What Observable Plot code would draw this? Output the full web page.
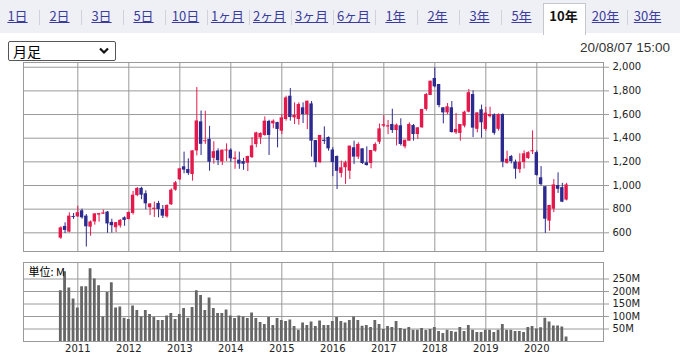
<!DOCTYPE html>
<html><head><meta charset="utf-8">
<script src="https://cdn.jsdelivr.net/npm/d3@7"></script>
<script src="https://cdn.jsdelivr.net/npm/@observablehq/plot@0.6"></script>
<style>
body{margin:0;background:#fff;}
#wrap{position:relative;width:680px;height:355px;overflow:hidden;font-family:"Noto Sans CJK JP","Liberation Sans",sans-serif;}
#tabs{position:absolute;left:0;top:0;width:680px;height:33px;background:#eef0f6;}
.tab{position:absolute;top:7px;transform:translateX(-50%);font-size:13px;line-height:18px;color:#3c3c9c;text-decoration:underline;white-space:nowrap;}
.tab.sel{color:#111;font-weight:bold;text-decoration:none;}
.sep{position:absolute;top:10px;width:1px;height:15px;background:#cfd1dc;}
#selbox{position:absolute;left:542px;top:3px;width:41px;height:31px;background:#fff;border:1px solid #c4c6d0;border-bottom:none;}
#dd{position:absolute;left:8px;top:41px;width:106px;height:18px;border:1px solid #555;border-radius:2px;background:#fff;font-size:14px;line-height:18px;}
#dd span{position:absolute;left:4px;top:0;color:#000;}
#dd svg{position:absolute;right:6px;top:5px;}
#stamp{position:absolute;right:10px;top:40px;font-size:13.5px;color:#333;font-family:"Liberation Sans",sans-serif;}
#main{position:absolute;left:0;top:55px;}
#vol{position:absolute;left:0;top:255px;}
</style></head>
<body><div id="wrap">
<div id="tabs"></div>
<div id="dd"><span>月足</span><svg width="10" height="8"><polyline points="1,1.5 5,5.5 9,1.5" fill="none" stroke="#111" stroke-width="2.2"/></svg></div>
<div id="stamp">20/08/07 15:00</div>
<div id="main"></div>
<div id="vol"></div>
</div>
<script>
// Monthly candles, Sep 2010 .. Aug 2020
const startLabel = "2010-09";
const opens = [555,654,606,738,
735,786,741,648,692,750,758,775,688,643,658,727,
712,764,915,976,930,812,798,848,797,735,837,961,
1048,1158,1135,1093,1292,1538,1370,1390,1230,1292,1200,1292,
1299,1221,1214,1202,1188,1236,1346,1403,1423,1542,1521,1532,
1459,1558,1755,1572,1558,1657,1600,1690,1380,1194,1383,1406,
1300,1245,1102,1150,1121,1319,1240,1310,1192,1186,1290,1366,
1502,1495,1516,1465,1505,1327,1375,1507,1431,1488,1643,1761,
1905,1854,1657,1614,1657,1445,1440,1502,1620,1769,1475,1640,
1474,1582,1597,1475,1600,1188,1245,1197,1134,1195,1228,1285,
1278,1065,990,699,800,1000,982,877];
const highs = [650,685,769,763,
825,800,755,700,762,765,793,780,715,688,712,735,
775,950,983,985,955,845,860,866,831,837,972,1034,
1145,1282,1225,1293,1828,1630,1628,1500,1370,1310,1299,1352,
1310,1285,1282,1230,1248,1405,1450,1445,1580,1552,1555,1535,
1600,1755,1820,1699,1699,1699,1713,1710,1380,1423,1496,1411,
1320,1250,1206,1206,1333,1375,1361,1310,1327,1296,1361,1520,
1590,1550,1645,1520,1564,1383,1530,1516,1488,1643,1778,1882,
1995,1854,1657,1693,1710,1609,1516,1628,1812,1800,1614,1680,
1660,1662,1606,1606,1606,1290,1254,1215,1268,1293,1285,1462,
1293,1160,990,833,1050,1107,1018,1018];
const lows = [545,594,600,713,
730,715,480,571,665,690,755,596,598,602,640,655,
711,750,905,880,795,746,730,727,721,724,831,952,
1043,1099,1085,1037,1250,1253,1347,1121,1180,1169,1169,1204,
1195,1137,1137,1128,1118,1228,1320,1347,1417,1254,1480,1318,
1431,1544,1544,1516,1510,1524,1473,1240,1150,1185,1347,1290,
1075,966,1065,1009,1051,1178,1220,1178,1164,1141,1282,1347,
1490,1430,1440,1335,1333,1310,1375,1375,1389,1482,1628,1761,
1826,1657,1521,1600,1443,1431,1375,1488,1614,1405,1445,1400,
1459,1570,1425,1460,1150,1180,1183,1053,1102,1140,1220,1262,
1078,998,595,613,770,933,855,870];
const closes = [642,620,741,730,
770,727,651,692,760,762,768,675,660,686,706,705,
772,918,975,918,845,844,808,797,741,831,961,1023,
1141,1130,1102,1293,1546,1348,1378,1197,1286,1210,1299,1300,
1226,1232,1181,1180,1245,1335,1445,1440,1544,1423,1544,1474,
1572,1741,1575,1592,1685,1600,1713,1375,1194,1423,1372,1310,
1194,1120,1150,1192,1333,1240,1347,1186,1169,1296,1347,1479,
1514,1505,1465,1510,1347,1383,1516,1431,1488,1643,1769,1882,
1834,1676,1614,1665,1448,1474,1516,1620,1785,1485,1614,1530,
1612,1600,1441,1600,1197,1222,1203,1138,1195,1268,1278,1294,
1085,1007,715,831,1005,968,859,1005];
// volume, millions of shares
const volumes = [203,279,214,170,
134,219,219,291,250,223,98,196,235,134,138,93,
88,142,124,98,124,108,96,84,84,102,112,88,
108,132,93,136,203,184,124,174,132,112,112,126,
102,92,102,98,92,114,92,76,68,96,64,92,
84,80,86,60,45,74,64,78,60,82,64,64,
80,96,80,74,84,98,84,61,64,56,84,68,
48,60,56,80,52,48,56,45,45,52,44,48,
56,40,32,45,40,37,56,40,64,45,36,36,
45,45,36,45,68,45,45,40,40,36,56,60,
50,55,93,78,62,62,58,18];
const years = [2011,2012,2013,2014,2015,2016,2017,2018,2019,2020];
const priceTicks = [600,800,1000,1200,1400,1600,1800,2000];
const volTicks = [50,100,150,200,250];
const tabLabels = ["1日","2日","3日","5日","10日","1ヶ月","2ヶ月","3ヶ月","6ヶ月","1年","2年","3年","5年","10年","20年","30年"];
const selectedTab = "10年";

// header tabs
const tabs = document.getElementById("tabs");
tabLabels.forEach((t,i)=>{
  const c = 17.5 + 42*i;
  if (t === selectedTab) {
    const b = document.createElement("div"); b.id = "selbox"; b.style.left = (c-21)+"px"; tabs.appendChild(b);
  }
  const s = document.createElement("span");
  s.className = "tab" + (t===selectedTab ? " sel" : "");
  s.style.left = c + "px"; s.textContent = t; tabs.appendChild(s);
  const next = tabLabels[i+1];
  if (i < tabLabels.length-1 && t !== selectedTab && next !== selectedTab) {
    const d = document.createElement("div"); d.className="sep"; d.style.left=(c+21)+"px"; tabs.appendChild(d);
  }
});

const [sy, sm] = startLabel.split("-").map(Number);
const offset = (sy-2011)*12 + (sm-1);
const data = opens.map((o,i)=>({m:i+offset,o,h:highs[i],l:lows[i],c:closes[i],v:volumes[i]}));
const RED = "#e3194b", BLUE = "#2c2a8e", GRID = "#9a9a9a";
const yearPos = years.map(y=>(y-2011)*12);
const xDomain = [-12.78, 123.69];
const common = {width:680, marginLeft:23, marginRight:77,
  x:{type:"linear", domain:xDomain, axis:null, label:null},
  style:{background:"transparent", fontFamily:"DejaVu Sans", fontSize:"10px", color:"#222"}};

const main = Plot.plot({...common, height:200, marginTop:7, marginBottom:4,
  y:{domain:[442,2040], axis:null, label:null},
  marks:[
    Plot.gridX(yearPos,{stroke:GRID, strokeOpacity:1}),
    Plot.gridY(priceTicks,{stroke:GRID, strokeOpacity:1}),
    Plot.frame({stroke:GRID}),
    Plot.axisY(priceTicks,{anchor:"right", label:null, tickSize:5, tickPadding:4, tickFormat:d3.format(","), stroke:GRID, fill:"#222"}),
    Plot.ruleX(data,{x:"m", y1:"l", y2:"h", stroke:d=>d.c>=d.o?RED:BLUE, strokeWidth:1}),
    Plot.rect(data,{x1:d=>d.m-0.4, x2:d=>d.m+0.4, y1:"o", y2:"c", fill:d=>d.c>=d.o?RED:BLUE})
  ]});
document.getElementById("main").appendChild(main);

const vol = Plot.plot({...common, height:100, marginTop:7, marginBottom:14,
  y:{domain:[0,316], axis:null, label:null},
  marks:[
    Plot.gridX(yearPos,{stroke:GRID, strokeOpacity:1}),
    Plot.gridY(volTicks,{stroke:GRID, strokeOpacity:1}),
    Plot.rect(data,{x1:d=>d.m-0.33, x2:d=>d.m+0.33, y1:0, y2:"v", fill:"#666"}),
    Plot.frame({stroke:GRID}),
    Plot.axisY(volTicks,{anchor:"right", label:null, tickSize:5, tickPadding:4, tickFormat:d=>d+"M", stroke:GRID, fill:"#222"}),
    Plot.axisX(yearPos,{anchor:"bottom", label:null, tickSize:0, tickPadding:3, tickFormat:(d,i)=>String(years[i]), fill:"#222"}),
    Plot.text(["単位: M"],{frameAnchor:"top-left", dx:5, dy:6, fill:"#000", fontSize:11, fontFamily:"Noto Sans CJK JP", textAnchor:"start"})
  ]});
document.getElementById("vol").appendChild(vol);
</script>
</body></html>
